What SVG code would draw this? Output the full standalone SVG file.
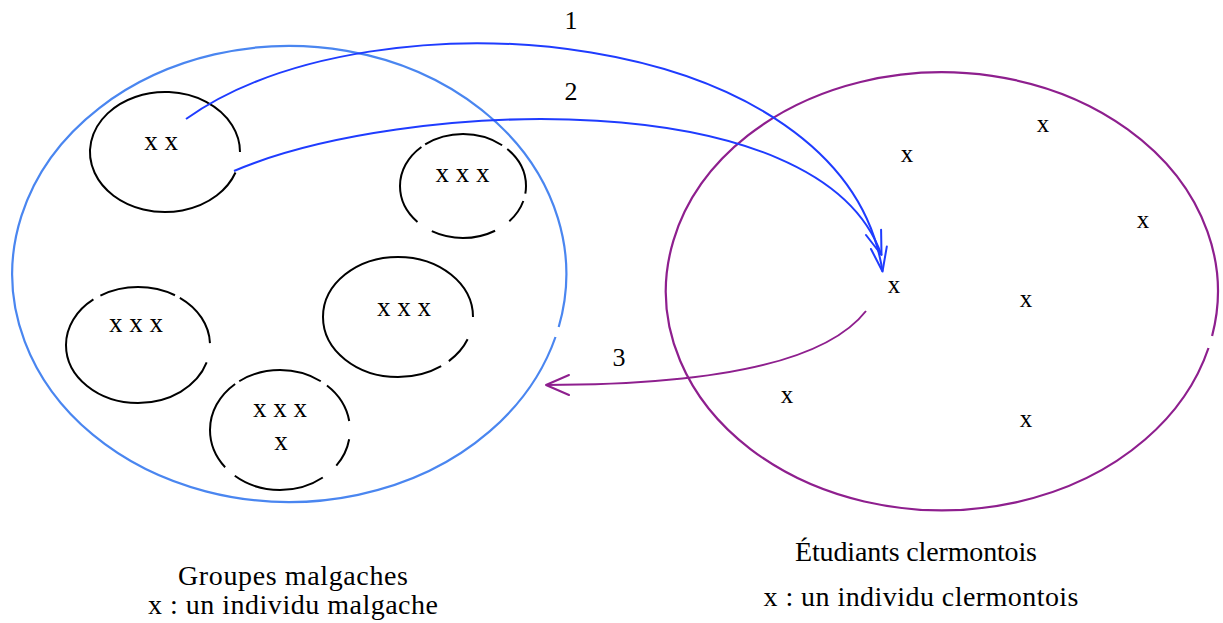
<svg xmlns="http://www.w3.org/2000/svg" width="1223" height="623" viewBox="0 0 1223 623" font-family="'Liberation Serif', 'Times New Roman', Times, serif">
<style>
text{font-family:'Liberation Serif','Times New Roman',Times,serif;fill:#000}
.x{font-size:27px;text-anchor:middle}
.xi{font-size:25px;text-anchor:middle}
.lbl{font-size:28px;text-anchor:middle}
.num{font-size:26px;text-anchor:middle}
.grp{fill:none;stroke:#000;stroke-width:2}
.big{fill:none;stroke-width:2.2}
.ab{fill:none;stroke:#1f3cff;stroke-width:2}
.ap{fill:none;stroke:#8e1f8e;stroke-width:2}
</style>
<defs>
<marker id="hb" markerUnits="userSpaceOnUse" viewBox="-26 -13 28 26" markerWidth="28" markerHeight="26" refX="0" refY="0" orient="auto">
<path d="M-24,-8 L0,0 L-24,8" fill="none" stroke="#1f3cff" stroke-width="2" stroke-linecap="round" stroke-linejoin="round"/>
</marker>
<marker id="hp" markerUnits="userSpaceOnUse" viewBox="-26 -13 28 26" markerWidth="28" markerHeight="26" refX="0" refY="0" orient="auto">
<path d="M-23,-10 L0,0 L-23,10" fill="none" stroke="#8e1f8e" stroke-width="2" stroke-linecap="round" stroke-linejoin="round"/>
</marker>
</defs>
<g id="malgaches">
<path class="big" stroke="#4a86f0" d="M555.5,337 A277,228 0 1,1 558.7,327"/>
<text class="lbl" x="293" y="585" textLength="230" lengthAdjust="spacing">Groupes malgaches</text>
<text class="lbl" x="293" y="614" textLength="290" lengthAdjust="spacing">x : un individu malgache</text>
</g>
<g id="clermontois">
<path class="big" stroke="#8e1f8e" d="M1208.5,348 A276,219 0 1,1 1212.1,336"/>
<text class="lbl" x="916" y="561" textLength="242" lengthAdjust="spacing">Étudiants clermontois</text>
<text class="lbl" x="921" y="606" textLength="315" lengthAdjust="spacing">x : un individu clermontois</text>
<text class="xi" x="907" y="162">x</text>
<text class="xi" x="1043" y="132">x</text>
<text class="xi" x="1143" y="228">x</text>
<text class="xi" x="894" y="293">x</text>
<text class="xi" x="1026" y="307">x</text>
<text class="xi" x="787" y="403">x</text>
<text class="xi" x="1026" y="427">x</text>
</g>
<g id="groupe1">
<path class="grp" d="M235.5,172.5 A75,60 0 1,1 240,152"/>
<text class="x" x="161" y="150">x x</text>
</g>
<g id="groupe2">
<ellipse class="grp" cx="463" cy="186" rx="63" ry="52" pathLength="360" stroke-dasharray="7.6 7.7 24.7 17 65 17 87 4.5 80.5 6.4 42.6 0"/>
<text class="x" x="462.5" y="182">x x x</text>
</g>
<g id="groupe3">
<ellipse class="grp" cx="138" cy="345" rx="72" ry="58" pathLength="360" stroke-dasharray="0 15.8 213 7 67.8 4.8 49.9 1.7"/>
<text class="x" x="136" y="332">x x x</text>
</g>
<g id="groupe4">
<ellipse class="grp" cx="398" cy="317" rx="75" ry="60" pathLength="360" stroke-dasharray="0 19.6 24.6 7.7 308.1 0"/>
<text class="x" x="404" y="316">x x x</text>
</g>
<g id="groupe5">
<ellipse class="grp" cx="280" cy="430" rx="70" ry="60" pathLength="360" stroke-dasharray="0 8.2 26.2 15.8 82.2 11.3 84.3 4.3 75.4 6.6 37.7 8"/>
<text class="x" x="280" y="417">x x x</text>
<text class="x" x="281" y="450">x</text>
</g>
<g id="connecteurs">
<path class="ab" d="M186,119 C375,-15 845,25 882.5,271.5" marker-end="url(#hb)"/>
<path class="ab" d="M234,171 C400,100 820,80 881.5,255" marker-end="url(#hb)"/>
<path class="ap" d="M866,311 C820,370 680,385 546,385" marker-end="url(#hp)"/>
<text class="num" x="571" y="29">1</text>
<text class="num" x="571" y="100">2</text>
<text class="num" x="619" y="366">3</text>
</g>
</svg>
